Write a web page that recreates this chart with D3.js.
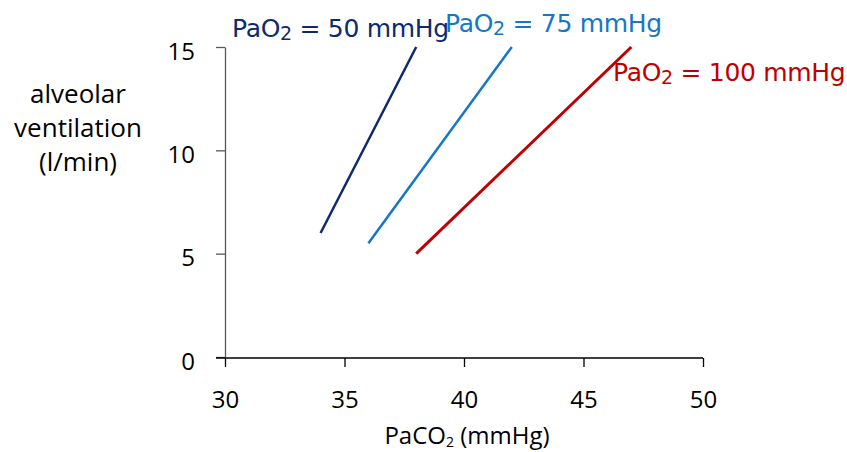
<!DOCTYPE html>
<html lang="en">
<head>
<meta charset="UTF-8">
<title>PaCO2 vs alveolar ventilation</title>
<style>
  html, body { margin: 0; padding: 0; background: #fff; }
  #main { width: 847px; height: 452px; }
  text { font-family: "Open Sans", "DejaVu Sans", sans-serif; }
</style>
</head>
<body>
<div id="main"></div>
<script src="https://d3js.org/d3.v7.min.js"></script>
<script>
  // data
  const xTicks = [30, 35, 40, 45, 50];
  const yTicks = [0, 5, 10, 15];
  const seriesNames = ['PaO2 = 50 mmHg', 'PaO2 = 75 mmHg', 'PaO2 = 100 mmHg'];
  const seriesPaO2 = [50, 75, 100];
  const paco2Start = [34, 36, 38];
  const paco2End = [38, 42, 47];
  const ventStart = [6, 5.5, 5];
  const ventEnd = [15, 15, 15];
  const colors = ['#0d2a6e', '#1577c6', '#c00000'];
  const widths = [2.5, 2.5, 3];

  const width = 847, height = 452;
  const svg = d3.select('#main').append('svg')
    .attr('width', width).attr('height', height)
    .attr('viewBox', `0 0 ${width} ${height}`);

  const x = d3.scaleLinear().domain([30, 50]).range([225, 703]);
  const y = d3.scaleLinear().domain([0, 15]).range([357, 47]);

  // y axis
  const yAxis = svg.append('g')
    .attr('transform', `translate(${x(30)},0)`)
    .call(d3.axisLeft(y).tickValues(yTicks).tickSize(9).tickPadding(21).tickSizeOuter(0));
  yAxis.select('.domain').attr('stroke', '#595959').attr('stroke-width', 1.3);
  yAxis.selectAll('.tick line').attr('stroke', '#595959').attr('stroke-width', 1.3);
  yAxis.selectAll('.tick text')
    .attr('font-size', 24).attr('fill', '#000').attr('dy', '0.5em')
    .style('font-family', '"Open Sans", sans-serif');

  // x axis
  const xAxis = svg.append('g')
    .attr('transform', `translate(0,${y(0) + 1})`)
    .call(d3.axisBottom(x).tickValues(xTicks).tickSize(9).tickPadding(24).tickSizeOuter(0));
  xAxis.select('.domain').attr('stroke', '#000').attr('stroke-width', 1.3)
    .attr('d', `M${x(30) - 9},0H${x(50)}`);
  xAxis.selectAll('.tick line').attr('stroke', '#000').attr('stroke-width', 1.3);
  xAxis.selectAll('.tick text')
    .attr('font-size', 24).attr('fill', '#000')
    .style('font-family', '"Open Sans", sans-serif');

  // x title
  const xt = svg.append('text')
    .attr('x', (x(30) + x(50)) / 2 + 3).attr('y', 444)
    .attr('text-anchor', 'middle').attr('font-size', 24).attr('fill', '#000');
  xt.append('tspan').text('PaCO');
  xt.append('tspan').text('2').attr('font-size', 14).attr('dy', 3);
  xt.append('tspan').text(' (mmHg)').attr('dy', -3);

  // y title
  const yTitle = ['alveolar', 'ventilation', '(l/min)'];
  svg.append('g').selectAll('text').data(yTitle).join('text')
    .attr('x', 78).attr('y', (d, i) => 103 + i * 34)
    .attr('text-anchor', 'middle').attr('font-size', 26).attr('fill', '#000')
    .text(d => d);

  // lines
  const line = d3.line().x(d => x(d[0])).y(d => y(d[1]));
  const series = seriesPaO2.map((p, i) => ({
    name: seriesNames[i],
    color: colors[i],
    w: widths[i],
    pts: [[paco2Start[i], ventStart[i]], [paco2End[i], ventEnd[i]]]
  }));
  svg.append('g').selectAll('path').data(series).join('path')
    .attr('d', d => line(d.pts))
    .attr('fill', 'none')
    .attr('stroke', d => d.color)
    .attr('stroke-width', d => d.w);

  // labels
  const labelPos = [[232, 37], [445, 32], [613, 81]];
  series.forEach((s, i) => {
    const t = svg.append('text')
      .attr('x', labelPos[i][0]).attr('y', labelPos[i][1])
      .attr('font-size', 25).attr('fill', s.color)
      .style('font-family', '"DejaVu Sans", sans-serif')
      .style('letter-spacing', '-0.3px');
    t.append('tspan').text('PaO');
    t.append('tspan').text('2').attr('font-size', 19).attr('dy', 3);
    t.append('tspan').text(' = ' + s.name.split('= ')[1]).attr('dy', -3);
  });
</script>
</body>
</html>
